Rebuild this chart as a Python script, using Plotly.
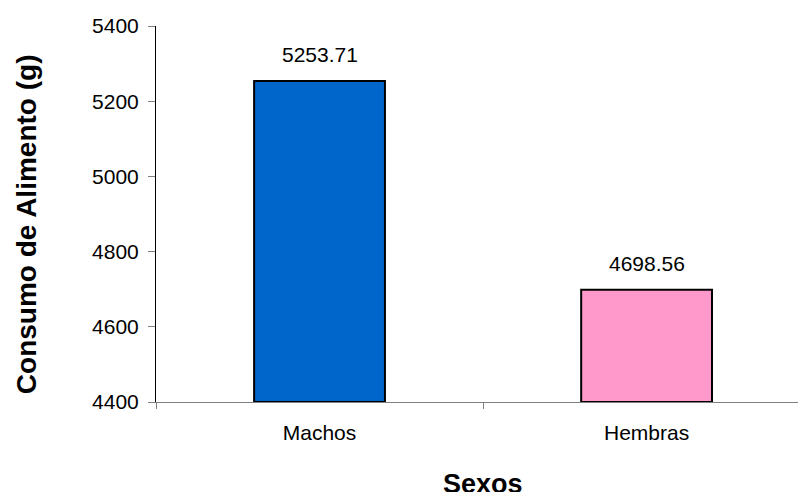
import plotly.graph_objects as go

# Food consumption by sex
categorias = ["Machos", "Hembras"]
consumo = [5253.71, 4698.56]
colores = ["#0066CC", "#FF99CC"]
y_ticks = [4400, 4600, 4800, 5000, 5200, 5400]

FONT = "Liberation Sans, Arial, sans-serif"
BASE = 4400

fig = go.Figure()
fig.add_trace(go.Bar(
    x=categorias,
    y=[v - BASE for v in consumo],
    base=BASE,
    width=0.4,
    marker=dict(color=colores, line=dict(color="black", width=2)),
    hoverinfo="skip",
))

# value labels above the bars
for c, v in zip(categorias, consumo):
    fig.add_annotation(
        x=c, y=v, xref="x", yref="y",
        text=f"{v:.2f}", showarrow=False,
        yanchor="bottom", yshift=13,
        font=dict(family=FONT, size=21, color="black"),
    )

# axis titles
fig.add_annotation(
    x=0.5, xref="x", y=-0.173, yref="paper",
    text="<b>Sexos</b>", showarrow=False, yanchor="top",
    font=dict(family=FONT, size=27, color="black"),
)
fig.add_annotation(
    x=0, xref="paper", xshift=-130, y=0.473, yref="paper",
    text="<b>Consumo de Alimento (g)</b>", showarrow=False,
    textangle=-90, xanchor="center", yanchor="middle",
    font=dict(family=FONT, size=28, color="black"),
)

fig.update_layout(
    width=798, height=492,
    margin=dict(l=156, r=0, t=26, b=90),
    paper_bgcolor="white", plot_bgcolor="white",
    showlegend=False,
    font=dict(family=FONT, size=21, color="black"),
    xaxis=dict(
        type="category",
        range=[-0.5, 1.463],
        tickson="boundaries",
        ticks="outside", ticklen=6, tickcolor="#808080", tickwidth=1,
        ticklabelstandoff=12,
        showline=True, linecolor="#808080", linewidth=1,
        showgrid=False, zeroline=False,
        tickfont=dict(family=FONT, size=21, color="black"),
    ),
    yaxis=dict(
        range=[4400, 5400],
        tickvals=y_ticks,
        ticks="outside", ticklen=7, tickcolor="#808080", tickwidth=1,
        ticklabelstandoff=5,
        showline=True, linecolor="black", linewidth=1,
        showgrid=False, zeroline=False,
        tickfont=dict(family=FONT, size=21, color="black"),
    ),
)

fig.write_html("out.html")
